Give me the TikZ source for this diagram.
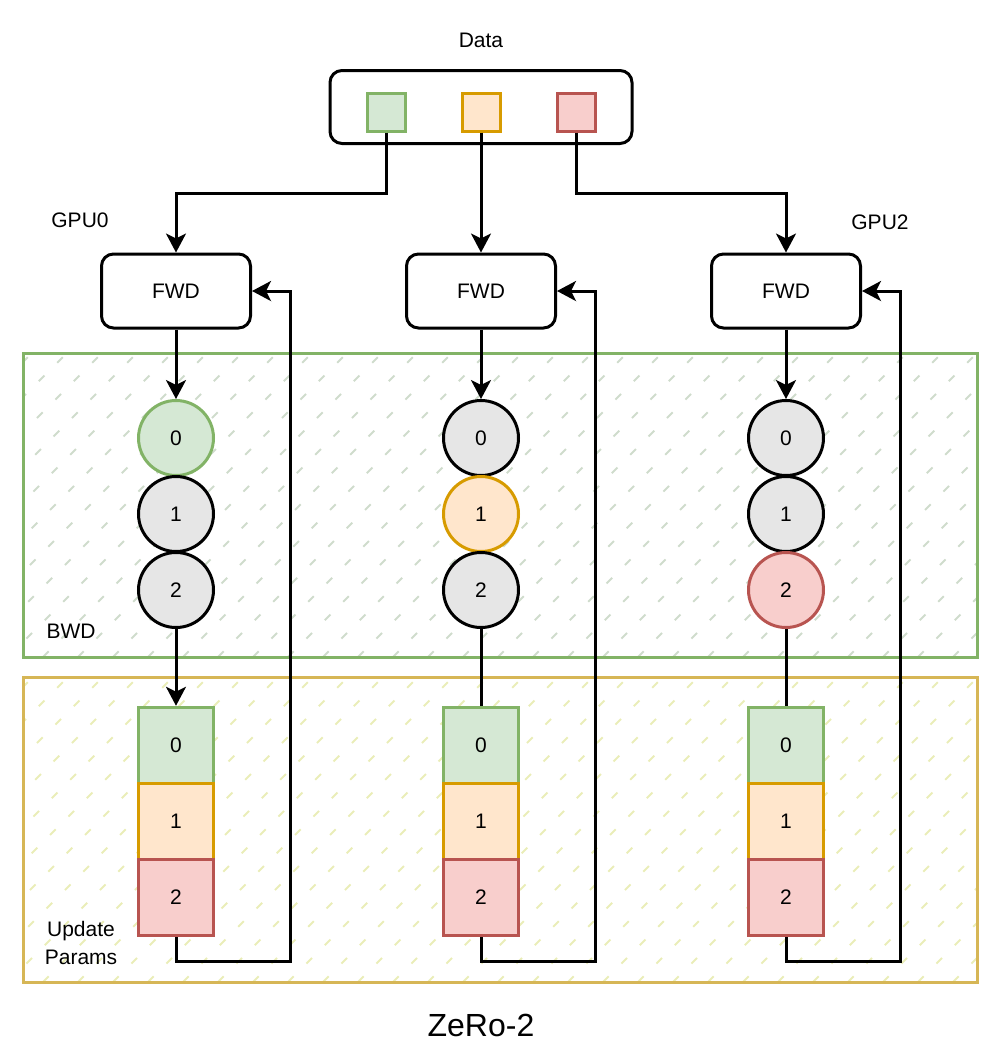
\documentclass[tikz,border=0pt]{standalone}
\usepackage{fontspec}
\setmainfont{Liberation Sans}
\usetikzlibrary{arrows.meta}
\definecolor{grnfill}{HTML}{D5E8D4}
\definecolor{grnline}{HTML}{82B366}
\definecolor{orgfill}{HTML}{FFE6CC}
\definecolor{orgline}{HTML}{D79B00}
\definecolor{redfill}{HTML}{F8CECC}
\definecolor{redline}{HTML}{B85450}
\definecolor{gryfill}{HTML}{E6E6E6}
\definecolor{updline}{HTML}{D6B656}
\definecolor{bwdhatch}{HTML}{CFDCCC}
\definecolor{updhatch}{HTML}{EAEDB8}
\begin{document}
\begin{tikzpicture}[x=0.5pt, y=-0.5pt, font=\fontsize{10.5}{14}\selectfont, line width=1.5pt,
    arr/.style={-{Stealth[length=9.5pt, width=10pt, inset=2.5pt]}},
    box/.style={draw, rounded corners=6pt, minimum width=74.5pt, minimum height=37pt},
    ball/.style={draw, circle, minimum size=37.5pt, inner sep=0pt},
    cell/.style={draw, minimum width=37.5pt, minimum height=38.25pt, inner sep=0pt},
    chip/.style={draw, minimum size=19pt, inner sep=0pt},
    c0/.style={fill=grnfill, draw=grnline}, c1/.style={fill=orgfill, draw=orgline},
    c2/.style={fill=redfill, draw=redline}, cg/.style={fill=gryfill, draw=black}]
  \useasboundingbox (0,0) rectangle (1008,1041);
  % BWD and Update Params areas
  \foreach \top/\bot/\hatch/\edge in {353/657/bwdhatch/grnline, 677/982/updhatch/updline} {
    \begin{scope}
      \clip (23,\top) rectangle (977,\bot);
      \foreach \i in {0,...,37}
        \draw[\hatch, line width=0.9pt, dash pattern=on 4pt off 9pt] (23-330+35*\i,\bot) -- ++(330,-330);
    \end{scope}
    \draw[\edge] (23,\top) rectangle (977,\bot);
  }
  \node (bwd) at (71,631) {BWD};
  \node[align=center] (upd) at (81,943) {Update\\Params};

  % data
  \node (datalbl) at (481,40) {Data};
  \node[draw, rounded corners=6pt, minimum width=151pt, minimum height=36.5pt] (data) at (481,107) {};
  \foreach \x [count=\k from 0] in {386,481,576}
    \node[chip, c\k] (d\k) at (\x,112) {};
  \node (gpu0) at (80,220) {GPU0};
  \node (gpu2) at (880,222) {GPU2};

  % one column per GPU
  \foreach \x [count=\k from 0] in {176,481,786} {
    \node[box] (f\k) at (\x,291) {FWD};
    \foreach \j/\y in {0/438,1/514,2/590} {
      \ifnum\j=\k \def\tint{c\j}\else\def\tint{cg}\fi
      \node[ball, \tint] (b\k\j) at (\x,\y) {\j};
      \node[cell, c\j] (p\k\j) at (\x,\y+307.5) {\j};
    }
    \ifnum\k=0 \def\tip{arr}\else\def\tip{-}\fi
    \draw[arr] (f\k) -- (b\k0);
    \draw[\tip] (b\k2) -- (p\k0);
    \draw[arr] (p\k2.south) -- ++(0,24) -- ++(114,0) |- (f\k.east);
  }
  \draw[arr] (d0.south) -- ++(0,61) -| (f0.north);
  \draw[arr] (d1) -- (f1);
  \draw[arr] (d2.south) -- ++(0,61) -| (f2.north);

  \node[anchor=base, font=\fontsize{16}{19}\selectfont] (title) at (481,1036) {ZeRo-2};
\end{tikzpicture}
\end{document}
